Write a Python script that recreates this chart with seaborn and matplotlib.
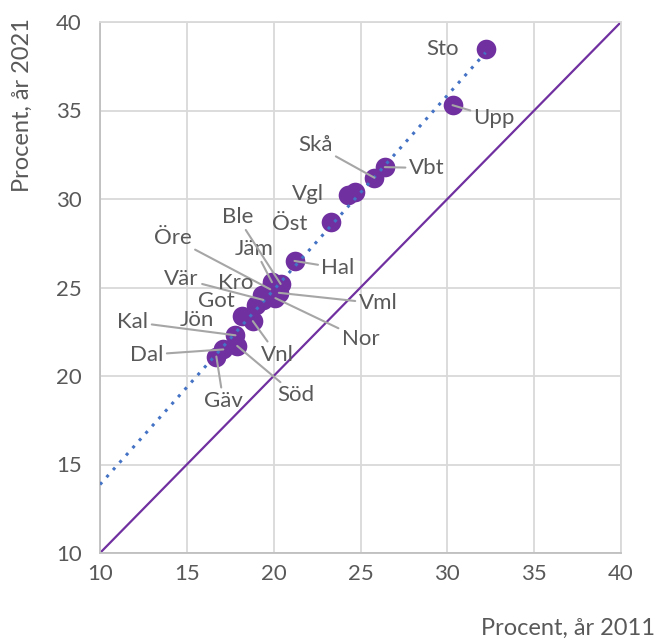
import numpy as np
import pandas as pd
import matplotlib
matplotlib.use("Agg")
import matplotlib.pyplot as plt
import seaborn as sns

sns.set_theme(style="white")
plt.rcParams['font.family'] = ['Lato', 'DejaVu Sans']

# Andel per län, år 2011 och år 2021 (procent)
lan = ["Sto", "Upp", "Vbt", "Skå", "Vgl", "", "Öst", "Hal", "Jäm", "Ble", "Öre",
       "Vml", "Nor", "Vär", "Kro", "Got", "Jön", "Vnl", "Kal", "Söd", "Dal", "Gäv"]
ar_2011 = [32.2, 30.3, 26.4, 25.8, 24.3, 24.7, 23.3, 21.2, 19.9, 20.4, 19.8,
           20.3, 20.1, 19.4, 19.3, 19.0, 18.2, 18.8, 17.8, 17.9, 17.1, 16.7]
ar_2021 = [38.5, 35.3, 31.8, 31.2, 30.2, 30.4, 28.7, 26.5, 25.3, 25.2, 24.9,
           24.7, 24.4, 24.3, 24.6, 24.0, 23.4, 23.1, 22.3, 21.7, 21.5, 21.1]

# etikettplacering (datakoordinater) och om etiketten har en hjälplinje
etikett_x = [29.75, 32.7, 28.8, 22.4, 22.0, 0, 20.9, 23.7, 18.9, 17.9, 14.2,
             26.0, 25.0, 14.7, 17.8, 16.7, 15.6, 20.2, 11.9, 21.3, 12.7, 17.1]
etikett_y = [38.5, 34.6, 31.75, 33.05, 30.3, 0, 28.6, 26.1, 27.2, 29.0, 27.8,
             24.1, 22.1, 25.5, 25.25, 24.25, 23.15, 21.2, 23.05, 18.9, 21.2, 18.6]
linje = [False, True, True, True, False, False, False, True, True, True, True,
         True, True, True, False, False, False, True, True, True, True, True]

df = pd.DataFrame({"lan": lan, "x": ar_2011, "y": ar_2021})

lila = "#7030A0"
bla = "#4472C4"
gra_text = "#595959"

fig = plt.figure(figsize=(6.57, 6.41), dpi=100)
ax = fig.add_axes([100/657, 1 - 553/641, 521/657, 531/641])

# y = x
ax.axline((10, 10), slope=1, color=lila, lw=1.6, zorder=2)

# linjär trendlinje
k, m = np.polyfit(df["x"], df["y"], 1)
tx = np.array([10, df["x"].max()])
ax.plot(tx, k * tx + m, color=bla, lw=2.2, ls=(0, (1, 2.2)), zorder=4)

sns.scatterplot(data=df, x="x", y="y", s=200, color=lila, edgecolor=lila,
                linewidth=0, alpha=1, ax=ax, zorder=3)

for i in range(len(df)):
    if lan[i] == "":
        continue
    if linje[i]:
        ax.annotate(lan[i], xy=(ar_2011[i], ar_2021[i]), xytext=(etikett_x[i], etikett_y[i]),
                    ha="center", va="center", fontsize=16, color=gra_text, zorder=5,
                    arrowprops=dict(arrowstyle="-", color="#A6A6A6", lw=1.5,
                                    shrinkA=0, shrinkB=0))
    else:
        ax.text(etikett_x[i], etikett_y[i], lan[i], ha="center", va="center",
                fontsize=16, color=gra_text, zorder=5)

ax.set_xlim(10, 40)
ax.set_ylim(10, 40)
ax.set_xticks(range(10, 41, 5))
ax.set_yticks(range(10, 41, 5))
ax.grid(True, color="#D9D9D9", lw=1.3)
ax.set_axisbelow(True)
for s in ax.spines.values():
    s.set_color("#D9D9D9")
    s.set_linewidth(1.3)
ax.spines["left"].set_color("#BFBFBF")
ax.spines["bottom"].set_color("#BFBFBF")
ax.tick_params(axis="both", length=0, labelsize=16, labelcolor=gra_text)
ax.tick_params(axis="x", pad=8)
ax.tick_params(axis="y", pad=13)
ax.set_xlabel("")
ax.set_ylabel("")

fig.text(655/657, 1 - 628/641, "Procent, år 2011", ha="right", va="center",
         fontsize=17, color=gra_text)
fig.text(22/657, 1 - 18/641, "Procent, år 2021", ha="center", va="top",
         rotation=90, fontsize=17, color=gra_text)

fig.savefig("out.png", dpi=100)
